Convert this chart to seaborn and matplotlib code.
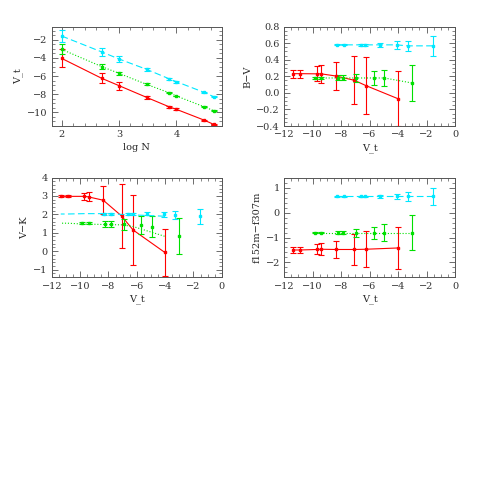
import numpy as np
import matplotlib
matplotlib.use("Agg")
import matplotlib.pyplot as plt
from matplotlib.ticker import MultipleLocator
import seaborn as sns

sns.set_style("ticks")
plt.rcParams["font.family"] = ["DejaVu Serif"]
plt.rcParams["font.size"] = 7

# log N for the three sequences
logN = [2.0, 2.7, 3.0, 3.48, 3.87, 4.0, 4.48, 4.65]

# V_t vs log N
vt_red = [-4.04, -6.26, -7.07, -8.37, -9.41, -9.70, -10.89, -11.37]
vt_red_err = [1.0, 0.55, 0.43, 0.2, 0.12, 0.1, 0.05, 0.04]
vt_green = [-3.04, -4.96, -5.70, -6.93, -7.85, -8.22, -9.41, -9.85]
vt_green_err = [0.57, 0.25, 0.2, 0.1, 0.06, 0.05, 0.04, 0.03]
vt_cyan = [-1.56, -3.33, -4.11, -5.26, -6.30, -6.63, -7.81, -8.30]
vt_cyan_err = [0.65, 0.45, 0.35, 0.15, 0.1, 0.1, 0.05, 0.04]

# B-V
bv_red = [-0.068, 0.088, 0.152, 0.204, 0.23, 0.23, 0.232, 0.232]
bv_red_err = [0.33, 0.34, 0.29, 0.17, 0.11, 0.09, 0.05, 0.05]
bv_green = [0.12, 0.18, 0.18, 0.18, 0.18, 0.18, 0.18, 0.18]
bv_green_err = [0.22, 0.1, 0.08, 0.045, 0.03, 0.03, 0.012, 0.01]
bv_cyan = [0.568, 0.568, 0.58, 0.58, 0.58, 0.58, 0.58, 0.58]
bv_cyan_err = [0.12, 0.06, 0.045, 0.025, 0.015, 0.01, 0.006, 0.005]

# V-K
vk_red = [-0.06, 1.15, 1.91, 2.77, 2.95, 2.98, 2.98, 2.98]
vk_red_err = [1.27, 1.92, 1.73, 0.77, 0.24, 0.18, 0.06, 0.06]
vk_green = [0.81, 1.34, 1.43, 1.45, 1.47, 1.47, 1.52, 1.52]
vk_green_err = [0.98, 0.55, 0.5, 0.29, 0.15, 0.15, 0.07, 0.05]
vk_cyan = [1.9, 1.97, 2.0, 2.04, 2.04, 2.04, 2.02, 2.02]
vk_cyan_err = [0.4, 0.2, 0.15, 0.1, 0.06, 0.05, 0.03, 0.03]

# f152m - f307m
uv_red = [-1.42, -1.47, -1.48, -1.48, -1.47, -1.48, -1.5, -1.5]
uv_red_err = [0.85, 0.73, 0.61, 0.35, 0.23, 0.2, 0.12, 0.12]
uv_green = [-0.8, -0.8, -0.8, -0.8, -0.8, -0.8, -0.8, -0.8]
uv_green_err = [0.69, 0.34, 0.24, 0.16, 0.05, 0.05, 0.03, 0.03]
uv_cyan = [0.65, 0.65, 0.65, 0.65, 0.65, 0.65, 0.65, 0.65]
uv_cyan_err = [0.35, 0.17, 0.1, 0.05, 0.03, 0.03, 0.02, 0.02]

RED, GREEN, CYAN = "#ff0000", "#00e000", "#00e8ff"
STY = {RED: "-", GREEN: ":", CYAN: (0, (6, 3))}


def series(ax, x, y, err, c, lx=None):
    lx = x if lx is None else lx
    sns.lineplot(x=lx, y=y, ax=ax, sort=False, color=c, lw=0.8,
                 linestyle=STY[c] if isinstance(STY[c], str) else "-",
                 estimator=None)
    if not isinstance(STY[c], str):
        ax.lines[-1].set_dashes(STY[c][1])
    ax.errorbar(x, y, yerr=err, fmt="s", ms=2, color=c, ecolor=c,
                elinewidth=0.8, capsize=2, capthick=0.8, lw=0)


def style(ax, xmaj, xmin, ymaj, ymin):
    ax.xaxis.set_major_locator(MultipleLocator(xmaj))
    ax.xaxis.set_minor_locator(MultipleLocator(xmin))
    ax.yaxis.set_major_locator(MultipleLocator(ymaj))
    ax.yaxis.set_minor_locator(MultipleLocator(ymin))
    ax.tick_params(which="both", direction="in", top=True, right=True,
                   colors="#555555", labelcolor="#333333", labelsize=7, pad=3)
    ax.tick_params(which="major", length=4, width=0.6)
    ax.tick_params(which="minor", length=2, width=0.5)
    for s in ax.spines.values():
        s.set_color("#555555")
        s.set_linewidth(0.7)


fig = plt.figure(figsize=(4.8, 4.8), dpi=100)
ax1 = fig.add_axes([0.108, 0.7375, 0.354, 0.207])
ax2 = fig.add_axes([0.592, 0.7375, 0.356, 0.207])
ax3 = fig.add_axes([0.108, 0.422, 0.354, 0.208])
ax4 = fig.add_axes([0.592, 0.422, 0.356, 0.208])

# panel 1
series(ax1, logN, vt_red, vt_red_err, RED)
series(ax1, logN, vt_green, vt_green_err, GREEN)
series(ax1, logN, vt_cyan, vt_cyan_err, CYAN)
ax1.set_xlim(1.83, 4.79)
ax1.set_ylim(-11.55, -0.52)
style(ax1, 1, 0.2, 2, 0.5)
ax1.set_xlabel("log N", labelpad=3)
ax1.set_ylabel("V_t", labelpad=3)

# panel 2
series(ax2, vt_red, bv_red, bv_red_err, RED)
series(ax2, vt_green, bv_green, bv_green_err, GREEN)
series(ax2, vt_cyan, bv_cyan, bv_cyan_err, CYAN)
ax2.set_xlim(-12, 0)
ax2.set_ylim(-0.4, 0.8)
style(ax2, 2, 0.5, 0.2, 0.05)
ax2.set_xlabel("V_t", labelpad=3)
ax2.set_ylabel("B\u2212V", labelpad=3)

# panel 3 (green and cyan curves drawn against red V_t)
series(ax3, vt_red, vk_red, vk_red_err, RED)
series(ax3, vt_green, vk_green, vk_green_err, GREEN, lx=vt_red)
series(ax3, vt_cyan, vk_cyan, vk_cyan_err, CYAN, lx=vt_red)
ax3.set_xlim(-12, 0)
ax3.set_ylim(-1.43, 4)
style(ax3, 2, 0.5, 1, 0.2)
ax3.set_xlabel("V_t", labelpad=3)
ax3.set_ylabel("V\u2212K", labelpad=3)

# panel 4
series(ax4, vt_red, uv_red, uv_red_err, RED)
series(ax4, vt_green, uv_green, uv_green_err, GREEN)
series(ax4, vt_cyan, uv_cyan, uv_cyan_err, CYAN)
ax4.set_xlim(-12, 0)
ax4.set_ylim(-2.6, 1.4)
style(ax4, 2, 0.5, 1, 0.2)
ax4.set_xlabel("V_t", labelpad=3)
ax4.set_ylabel("f152m\u2212f307m", labelpad=3)

fig.savefig("out.png", dpi=100)
